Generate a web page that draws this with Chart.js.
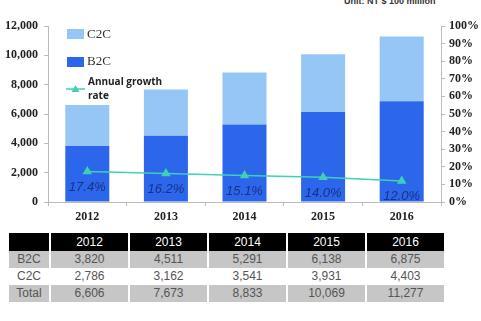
<!DOCTYPE html>
<html>
<head>
<meta charset="utf-8">
<script src="https://cdn.jsdelivr.net/npm/chart.js@4.4.0/dist/chart.umd.min.js"></script>
<style>
  body { margin: 0; background: #fff; width: 481px; height: 321px; overflow: hidden; position: relative; }
  #wrap { position: absolute; left: 0; top: 0; width: 481px; height: 228px; }
  #unit { position: absolute; left: 344px; top: -4px; font: bold 9px "Liberation Sans", Arial, sans-serif; color: #333; }
  table { position: absolute; left: 9px; top: 233px; border-collapse: collapse; font: 12px "Liberation Sans", Arial, sans-serif; color: #555; }
  td { height: 17px; padding: 0; text-align: center; line-height: 17px; border-left: 2px solid #fff; }
  td:first-child { width: 40px; border-left: none; }
  td.v { width: 77px; }
  tr.head td { background: #000; color: #fff; height: 18px; }
  tr.gray td { background: #c6c6c6; }
</style>
</head>
<body>
<div id="unit">Unit: NT $ 100 million</div>
<div id="wrap"><canvas id="chart"></canvas></div>
<table id="tbl"></table>
<script>
const years = ['2012', '2013', '2014', '2015', '2016'];
const b2c = [3820, 4511, 5291, 6138, 6875];
const c2c = [2786, 3162, 3541, 3931, 4403];
const totals = [6606, 7673, 8833, 10069, 11277];
const growth = [17.4, 16.2, 15.1, 14.0, 12.0];

const c2cColor = '#95c6f6';
const b2cColor = '#2c66ea';
const lineColor = '#3fd0b6';

// table under the chart
const fmt = v => v.toLocaleString('en-US');
const tbl = document.getElementById('tbl');
let html = '<tr class="head"><td></td>' + years.map(y => '<td class="v">' + y + '</td>').join('') + '</tr>';
html += '<tr class="gray"><td>B2C</td>' + b2c.map(v => '<td class="v">' + fmt(v) + '</td>').join('') + '</tr>';
html += '<tr><td>C2C</td>' + c2c.map(v => '<td class="v">' + fmt(v) + '</td>').join('') + '</tr>';
html += '<tr class="gray"><td>Total</td>' + totals.map(v => '<td class="v">' + fmt(v) + '</td>').join('') + '</tr>';
tbl.innerHTML = html;

// legend drawn inside the plot, top left
const legendPlugin = {
  id: 'insideLegend',
  afterDraw(chart) {
    const ctx = chart.ctx;
    ctx.save();
    ctx.fillStyle = c2cColor;
    ctx.fillRect(67, 29, 17, 10);
    ctx.fillStyle = b2cColor;
    ctx.fillRect(67, 57, 17, 10);
    ctx.fillStyle = '#333';
    ctx.font = '13px "Liberation Serif", serif';
    ctx.textBaseline = 'middle';
    ctx.fillText('C2C', 87, 35);
    ctx.fillText('B2C', 87, 62);
    ctx.strokeStyle = lineColor;
    ctx.lineWidth = 1.5;
    ctx.beginPath();
    ctx.moveTo(66, 89);
    ctx.lineTo(85, 89);
    ctx.stroke();
    ctx.fillStyle = lineColor;
    ctx.beginPath();
    ctx.moveTo(75.5, 85);
    ctx.lineTo(79.5, 92);
    ctx.lineTo(71.5, 92);
    ctx.closePath();
    ctx.fill();
    ctx.fillStyle = '#222';
    ctx.font = 'bold 10px "Open Sans", sans-serif';
    ctx.fillText('Annual growth', 88, 82);
    ctx.fillText('rate', 88, 96);
    ctx.restore();
  }
};

// growth labels below the line points
const labelPlugin = {
  id: 'growthLabels',
  afterDatasetsDraw(chart) {
    const meta = chart.getDatasetMeta(2);
    const ctx = chart.ctx;
    ctx.save();
    ctx.font = 'italic 13px "Liberation Sans", Arial, sans-serif';
    ctx.fillStyle = '#1b3185';
    ctx.textAlign = 'center';
    ctx.textBaseline = 'middle';
    meta.data.forEach((pt, i) => {
      ctx.fillText(growth[i].toFixed(1) + '%', pt.x, pt.y + 16);
    });
    ctx.restore();
  }
};

const tickFont = { family: '"Liberation Serif", serif', size: 12, weight: 'bold' };

new Chart(document.getElementById('chart'), {
  type: 'bar',
  data: {
    labels: years,
    datasets: [
      { label: 'B2C', data: b2c, backgroundColor: b2cColor, stack: 's', yAxisID: 'y', order: 1 },
      { label: 'C2C', data: c2c, backgroundColor: c2cColor, stack: 's', yAxisID: 'y', order: 1 },
      {
        type: 'line', label: 'Annual growth rate', data: growth, yAxisID: 'y1', order: 0,
        borderColor: lineColor, backgroundColor: lineColor, borderWidth: 1.5,
        pointStyle: 'triangle', pointRadius: 4, pointHoverRadius: 4
      }
    ]
  },
  options: {
    responsive: true,
    maintainAspectRatio: false,
    animation: false,
    layout: { padding: { top: 26, left: 0, right: 0, bottom: 0 } },
    plugins: { legend: { display: false }, tooltip: { enabled: false } },
    datasets: { bar: { categoryPercentage: 1, barPercentage: 0.56 } },
    scales: {
      x: {
        stacked: true,
        grid: { offset: true, drawOnChartArea: false, tickLength: 4, color: '#bbb' },
        border: { color: '#bbb' },
        ticks: { font: tickFont, color: '#222', padding: 4 },
        afterFit(s) { s.height = 26; }
      },
      y: {
        stacked: true,
        min: 0, max: 12000,
        grid: { drawOnChartArea: false, tickLength: 4, color: '#bbb' },
        border: { color: '#bbb' },
        ticks: { stepSize: 2000, font: tickFont, color: '#222', padding: 6,
          callback: v => v.toLocaleString('en-US') },
        afterFit(s) { s.width = 48; }
      },
      y1: {
        position: 'right',
        min: 0, max: 100,
        grid: { drawOnChartArea: false, tickLength: 4, color: '#bbb' },
        border: { color: '#bbb' },
        ticks: { stepSize: 10, font: tickFont, color: '#222', padding: 4,
          callback: v => v + '%' },
        afterFit(s) { s.width = 40; }
      }
    }
  },
  plugins: [legendPlugin, labelPlugin]
});
</script>
</body>
</html>
